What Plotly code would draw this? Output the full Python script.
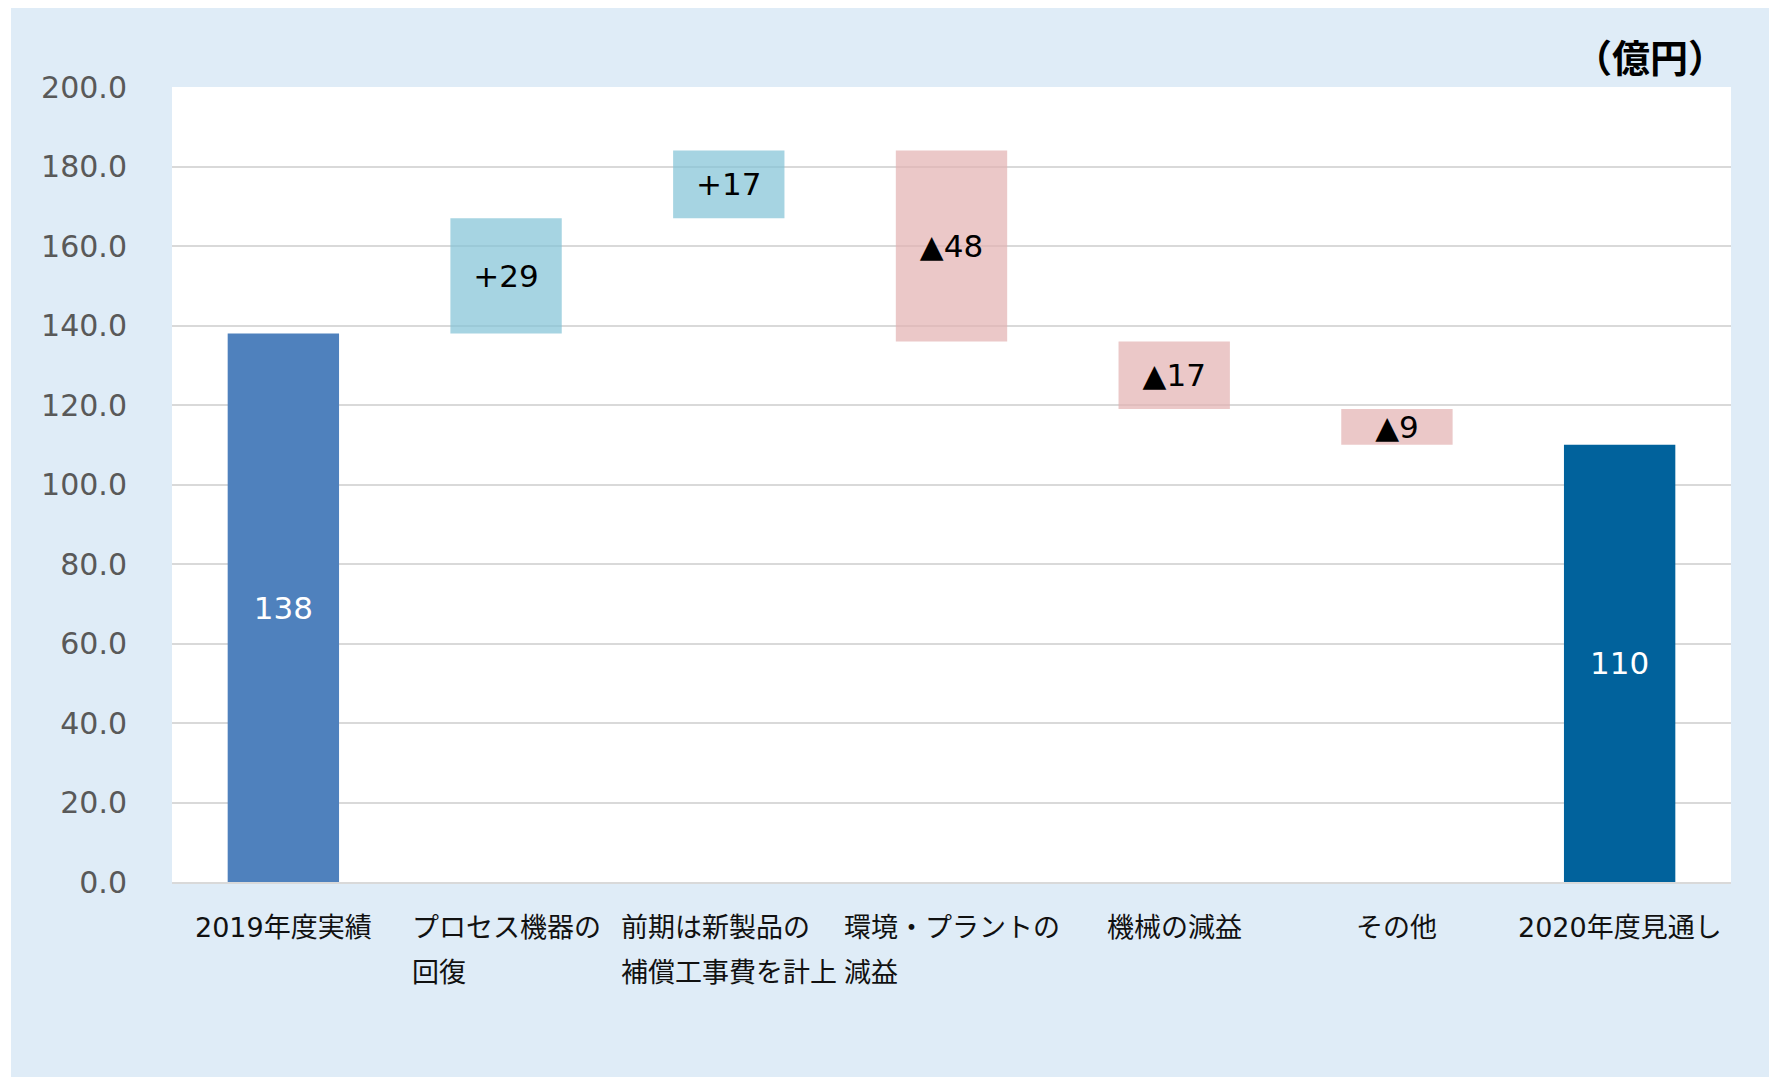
import plotly.graph_objects as go

# ---- data ----
categories = ["2019年度実績", "プロセス機器の<br>回復", "前期は新製品の<br>補償工事費を計上",
              "環境・プラントの<br>減益", "機械の減益", "その他", "2020年度見通し"]
values = [138, 29, 17, -48, -17, -9, 110]
measures = ["total", "relative", "relative", "relative", "relative", "relative", "total"]
value_labels = ["138", "+29", "+17", "▲48", "▲17", "▲9", "110"]
y_ticks = [0, 20, 40, 60, 80, 100, 120, 140, 160, 180, 200]
unit_label = "（億円）"

# ---- styles ----
BG = "#DFECF7"
TOTAL_COLORS = ["#4F81BD", "#01629C"]
UP = "rgba(128,194,214,0.7)"
DOWN = "rgba(226,176,176,0.7)"
GRID = "#D9D9D9"
FONT = "DejaVu Sans, Noto Sans CJK JP, sans-serif"

# compute waterfall bases
bases, heights, colors, tcolors = [], [], [], []
running = 0
ti = 0
for v, m in zip(values, measures):
    if m == "total":
        bases.append(0)
        heights.append(v)
        running = v
        colors.append(TOTAL_COLORS[ti]); ti += 1
        tcolors.append("white")
    else:
        if v >= 0:
            bases.append(running); heights.append(v); colors.append(UP)
        else:
            bases.append(running + v); heights.append(-v); colors.append(DOWN)
        running += v
        tcolors.append("black")

x = list(range(len(categories)))

fig = go.Figure()
fig.add_trace(go.Bar(
    x=x, y=heights, base=bases,
    marker=dict(color=colors, line=dict(width=0)),
    text=value_labels, textposition="inside", insidetextanchor="middle",
    textangle=0, textfont=dict(family=FONT, size=31, color=tcolors),
    hoverinfo="skip", width=0.5,
))

W, H = 1765, 1069
L, R, T, B = 164, 42, 79, 195
pw = W - L - R
ph = H - T - B

annotations = []
for i, c in enumerate(categories):
    annotations.append(dict(
        x=i, xref="x", y=0, yref="paper", yanchor="top", xanchor="center",
        align="left", yshift=-28, showarrow=False,
        text="<span style='font-size:27px'>" + c.replace("<br>", "</span><br><span style='font-size:27px'>") + "</span>",
        font=dict(family=FONT, size=34.6, color="#111111"),
    ))
annotations.append(dict(
    x=(1720 - L) / pw, xref="paper", y=(H - B - 47) / ph, yref="paper",
    xanchor="right", yanchor="middle", showarrow=False,
    text="<b>" + unit_label + "</b>",
    font=dict(family="Noto Sans CJK JP, sans-serif", size=38, color="black"),
))

shapes = [
    dict(type="rect", xref="paper", yref="paper", layer="below",
         x0=-L / pw, x1=(3 - L) / pw, y0=-B / ph, y1=(H - T) / ph + 0.01,
         fillcolor="white", line=dict(width=0)),
]

fig.update_layout(
    width=W, height=H,
    margin=dict(l=L, r=R, t=T, b=B, pad=0),
    paper_bgcolor=BG, plot_bgcolor="white",
    showlegend=False, bargap=0.5,
    annotations=annotations, shapes=shapes,
    uniformtext=dict(minsize=31, mode="show"),
    xaxis=dict(range=[-0.5, len(categories) - 0.5], showticklabels=False,
               showgrid=False, zeroline=False, showline=True, linecolor=GRID, linewidth=2,
               ticks=""),
    yaxis=dict(range=[0, 200], tickvals=y_ticks, tickformat=".1f",
               showgrid=True, gridcolor=GRID, gridwidth=1.5, zeroline=False,
               showline=False, ticks="", ticklabelstandoff=44,
               tickfont=dict(family=FONT, size=30, color="#595959")),
    font=dict(family=FONT),
)

fig.write_html("out.html")
